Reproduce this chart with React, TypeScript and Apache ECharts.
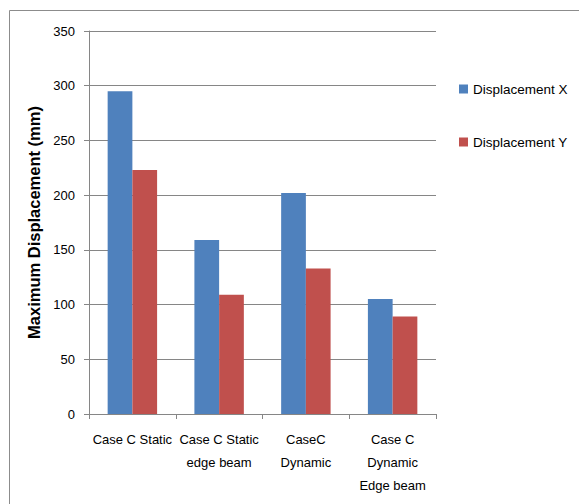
import React, { useEffect, useRef } from "react";
import * as echarts from "echarts";

const categories = [
  "Case C Static",
  "Case C Static\nedge beam",
  "CaseC\nDynamic",
  "Case C\nDynamic\nEdge beam",
];
const displacementX = [295, 159, 202, 105];
const displacementY = [223, 109, 133, 89];
const yTicks = { min: 0, max: 350, interval: 50 };

const FONT = "'Liberation Sans', Arial, sans-serif";
const GRAY = "#868686";

export default function App() {
  const ref = useRef<HTMLDivElement>(null);

  useEffect(() => {
    if (!ref.current) return;
    const chart = echarts.init(ref.current, undefined, { renderer: "svg" });
    chart.setOption({
      animation: false,
      backgroundColor: "#ffffff",
      textStyle: { fontFamily: FONT },
      graphic: [
        {
          type: "rect",
          shape: { x: 9.5, y: 10.5, width: 620, height: 520 },
          style: { fill: "none", stroke: "#8c8c8c", lineWidth: 1 },
          silent: true,
        },
      ],
      grid: { left: 89, top: 31, right: 143, bottom: 90, containLabel: false },
      legend: {
        orient: "vertical",
        left: 454,
        top: 76,
        itemWidth: 9,
        itemHeight: 9,
        itemGap: 37,
        icon: "rect",
        textStyle: { fontSize: 13.5, color: "#000", fontFamily: FONT, lineHeight: 16 },
        data: ["Displacement X", "Displacement Y"],
      },
      xAxis: {
        type: "category",
        data: categories,
        boundaryGap: true,
        axisLine: { show: true, lineStyle: { color: GRAY, width: 1 } },
        axisTick: { show: true, length: 5, alignWithLabel: false, lineStyle: { color: GRAY } },
        axisLabel: {
          interval: 0,
          margin: 14,
          fontSize: 13,
          lineHeight: 23,
          color: "#000",
          fontFamily: FONT,
        },
      },
      yAxis: {
        type: "value",
        min: yTicks.min,
        max: yTicks.max,
        interval: yTicks.interval,
        name: "Maximum Displacement (mm)",
        nameLocation: "middle",
        nameGap: 38,
        nameTextStyle: { fontSize: 16.5, fontWeight: "bold", color: "#000", fontFamily: FONT },
        axisLine: { show: true, lineStyle: { color: GRAY, width: 1 } },
        axisTick: { show: true, length: 5, lineStyle: { color: GRAY } },
        axisLabel: { margin: 14, fontSize: 13, color: "#000", fontFamily: FONT },
        splitLine: { show: true, lineStyle: { color: GRAY, width: 1 } },
      },
      series: [
        {
          name: "Displacement X",
          type: "bar",
          data: displacementX,
          itemStyle: { color: "#4F81BD" },
          barGap: "0%",
          barCategoryGap: "43%",
        },
        {
          name: "Displacement Y",
          type: "bar",
          data: displacementY,
          itemStyle: { color: "#C0504D" },
          barGap: "0%",
          barCategoryGap: "43%",
        },
      ],
    });
    return () => chart.dispose();
  }, []);

  return (
    <div
      ref={ref}
      style={{ position: "fixed", left: 0, top: 0, width: 579, height: 504 }}
    />
  );
}
